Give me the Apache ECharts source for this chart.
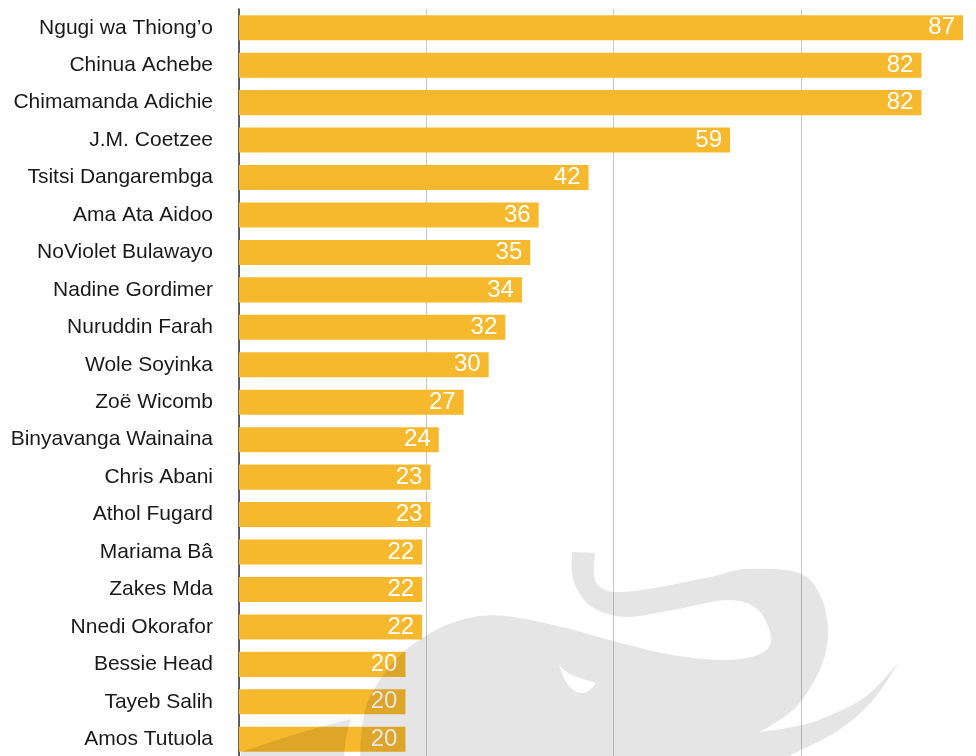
<!DOCTYPE html>
<html>
<head>
<meta charset="utf-8">
<script src="https://cdn.jsdelivr.net/npm/echarts@6/dist/echarts.min.js"></script>
<style>
html,body{margin:0;padding:0;background:#fff;}
#c{width:976px;height:756px;}
</style>
</head>
<body>
<div id="c"></div>
<script>
var authors = ["Ngugi wa Thiong’o","Chinua Achebe","Chimamanda Adichie","J.M. Coetzee","Tsitsi Dangarembga","Ama Ata Aidoo","NoViolet Bulawayo","Nadine Gordimer","Nuruddin Farah","Wole Soyinka","Zoë Wicomb","Binyavanga Wainaina","Chris Abani","Athol Fugard","Mariama Bâ","Zakes Mda","Nnedi Okorafor","Bessie Head","Tayeb Salih","Amos Tutuola"];
var votes = [87,82,82,59,42,36,35,34,32,30,27,24,23,23,22,22,22,20,20,20];
var axisMax = 90;
var axisStep = 22.5;

// ---- decorative elephant watermark (screen pixels, not data) ----
function smoothSeg(p) {
  var out = [];
  for (var i = 0; i < p.length - 1; i++) {
    var p0 = p[Math.max(i - 1, 0)], p1 = p[i], p2 = p[i + 1], p3 = p[Math.min(i + 2, p.length - 1)];
    for (var k = 0; k < 10; k++) {
      var t = k / 10, t2 = t * t, t3 = t2 * t;
      out.push([0, 1].map(function (j) {
        return 0.5 * ((2 * p1[j]) + (-p0[j] + p2[j]) * t + (2 * p0[j] - 5 * p1[j] + 4 * p2[j] - p3[j]) * t2 + (-p0[j] + 3 * p1[j] - 3 * p2[j] + p3[j]) * t3);
      }));
    }
  }
  out.push(p[p.length - 1]);
  return out;
}
function outline(segs) {
  var pts = [];
  segs.forEach(function (s) { pts = pts.concat(smoothSeg(s)); });
  return pts;
}
var bodyOutline = outline([
  [[572,552],[595,553]],
  [[595,553],[594,570],[597,584],[614,592],[654,588],[710,577],[747,569],[799,573],[821,597],[828,633],[821,667],[802,700],[784,717],[760,732]],
  [[760,732],[792,727],[821,719],[865,697],[899,662]],
  [[899,662],[873,700],[839,730],[795,753],[788,757]],
  [[788,757],[360,757]],
  [[360,757],[362,727],[370,697],[395,660],[432,632],[469,618],[506,616],[562,627],[617,642],[673,655],[728,660],[762,653],[771,637],[758,610],[728,600],[673,610],[625,617],[592,607],[577,589],[572,573],[572,552]]
]);
var tuskOutline = outline([
  [[351,719],[320,727],[280,739],[241,752]],
  [[241,752],[241,757]],
  [[241,757],[344,757]],
  [[344,757],[346,738],[351,719]]
]);
var eyeOutline = outline([
  [[559,665],[568,673],[580,678],[596,683]],
  [[596,683],[590,690],[582,693],[573,690],[565,680],[559,665]]
]);

var chart = echarts.init(document.getElementById('c'), null, {renderer:'canvas'});

chart.setOption({
  animation: false,
  grid: {left: 239, right: -12, top: 9, bottom: -2, containLabel: false, outerBoundsMode: 'none'},
  xAxis: {
    type: 'value', min: 0, max: axisMax, interval: axisStep,
    axisLabel: {show: false}, axisLine: {show: false}, axisTick: {show: false},
    splitLine: {show: true, lineStyle: {color: '#c8c8c8', width: 1}}
  },
  yAxis: {
    type: 'category', data: authors, inverse: true,
    axisTick: {show: false},
    axisLine: {show: true, lineStyle: {color: '#333', width: 1.5}},
    axisLabel: {margin: 26, fontSize: 21, color: '#1a1a1a', fontFamily: 'Liberation Sans, Arial, sans-serif'}
  },
  series: [{
    type: 'bar', data: votes, barCategoryGap: '33%',
    itemStyle: {color: '#F6B92D'},
    label: {show: true, position: 'insideRight', distance: 8, color: '#fff', fontSize: 24,
      fontFamily: 'Liberation Sans, Arial, sans-serif'}
  }],
  graphic: [
    {type: 'polygon', z: 100, silent: true, shape: {points: bodyOutline}, style: {fill: 'rgba(0,0,0,0.1)'}},
    {type: 'polygon', z: 100, silent: true, shape: {points: tuskOutline}, style: {fill: 'rgba(0,0,0,0.1)'}},
    {type: 'polygon', z: 101, silent: true, shape: {points: eyeOutline}, style: {fill: '#ffffff'}}
  ]
});
</script>
</body>
</html>
